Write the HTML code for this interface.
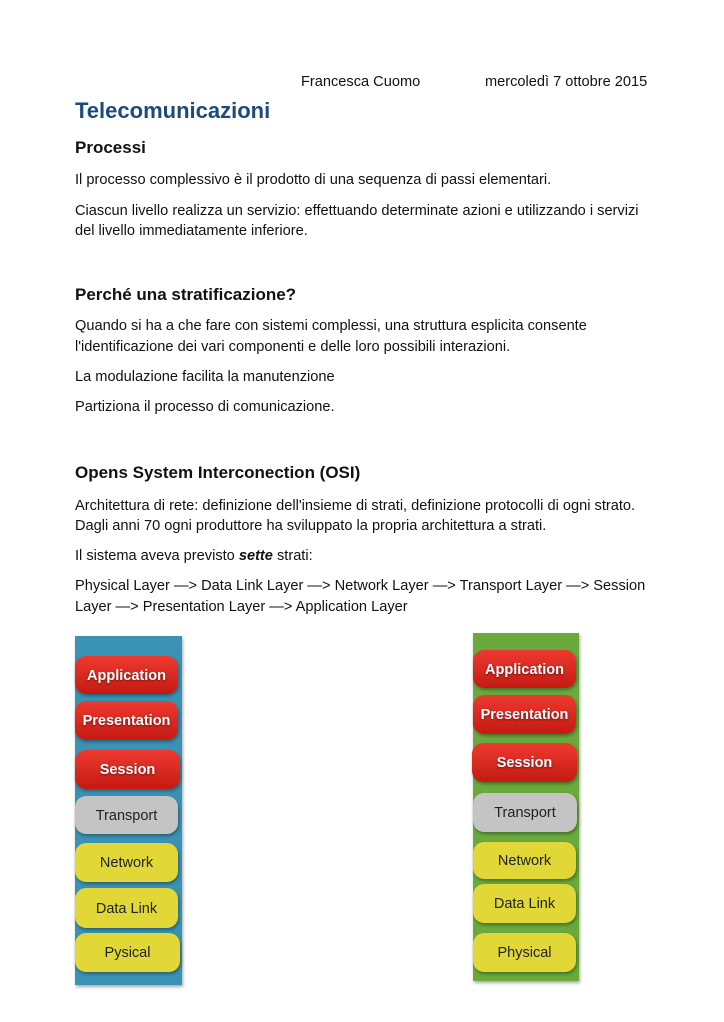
<!DOCTYPE html>
<html><head><meta charset="utf-8"><style>
body{margin:0;width:724px;height:1022px;background:#fff;position:relative;font-family:"Liberation Sans",Arial,sans-serif;color:#111;overflow:hidden}
.t{position:absolute;font-size:14.6px;white-space:nowrap;line-height:17px}
.h{position:absolute;font-size:17px;font-weight:bold;white-space:nowrap}
.panel{position:absolute;box-shadow:1px 2px 3px rgba(0,0,0,.35)}
.b{position:absolute;border-radius:11px;text-align:center;font-size:14.5px;box-sizing:border-box;box-shadow:1px 2px 3px rgba(0,0,0,.35)}
.r{background:linear-gradient(#ee3a30,#c41a12);color:#fff;font-weight:bold;text-shadow:0 1px 2px rgba(0,0,0,.5)}
.g{background:#c4c4c4;color:#222}
.y{background:#e1d737;color:#222}
</style></head><body>
<div class="t" style="left:301px;top:74px">Francesca Cuomo</div>
<div class="t" style="left:485px;top:74px">mercoledì 7 ottobre 2015</div>
<div style="position:absolute;left:75px;top:98px;font-size:22px;font-weight:bold;color:#1c4a7c">Telecomunicazioni</div>
<div class="h" style="left:75px;top:138px">Processi</div>
<div class="t" style="left:75px;top:172px">Il processo complessivo è il prodotto di una sequenza di passi elementari.</div>
<div class="t" style="left:75px;top:203px">Ciascun livello realizza un servizio: effettuando determinate azioni e utilizzando i servizi</div>
<div class="t" style="left:75px;top:223px">del livello immediatamente inferiore.</div>
<div class="h" style="left:75px;top:285px">Perché una stratificazione?</div>
<div class="t" style="left:75px;top:318px">Quando si ha a che fare con sistemi complessi, una struttura esplicita consente</div>
<div class="t" style="left:75px;top:339px">l'identificazione dei vari componenti e delle loro possibili interazioni.</div>
<div class="t" style="left:75px;top:369px">La modulazione facilita la manutenzione</div>
<div class="t" style="left:75px;top:399px">Partiziona il processo di comunicazione.</div>
<div class="h" style="left:75px;top:463px">Opens System Interconection (OSI)</div>
<div class="t" style="left:75px;top:498px">Architettura di rete: definizione dell'insieme di strati, definizione protocolli di ogni strato.</div>
<div class="t" style="left:75px;top:518px">Dagli anni 70 ogni produttore ha sviluppato la propria architettura a strati.</div>
<div class="t" style="left:75px;top:548px">Il sistema aveva previsto <b><i>sette</i></b> strati:</div>
<div class="t" style="left:75px;top:578px">Physical Layer —&gt; Data Link Layer —&gt; Network Layer —&gt; Transport Layer —&gt; Session</div>
<div class="t" style="left:75px;top:599px">Layer —&gt; Presentation Layer —&gt; Application Layer</div>

<div class="panel" style="left:75px;top:636px;width:107px;height:349px;background:#3a93b5"></div>
<div class="b r" style="left:75px;top:656px;width:103px;height:38px;line-height:40px">Application</div>
<div class="b r" style="left:75px;top:701px;width:103px;height:39px;line-height:41px">Presentation</div>
<div class="b r" style="left:75px;top:750px;width:105px;height:39px;line-height:41px">Session</div>
<div class="b g" style="left:75px;top:796px;width:103px;height:38px;line-height:40px">Transport</div>
<div class="b y" style="left:75px;top:843px;width:103px;height:39px;line-height:41px">Network</div>
<div class="b y" style="left:75px;top:888px;width:103px;height:40px;line-height:42px">Data Link</div>
<div class="b y" style="left:75px;top:933px;width:105px;height:39px;line-height:41px">Pysical</div>

<div class="panel" style="left:473px;top:633px;width:106px;height:348px;background:#6aaa3c"></div>
<div class="b r" style="left:473px;top:650px;width:103px;height:38px;line-height:40px">Application</div>
<div class="b r" style="left:473px;top:695px;width:103px;height:39px;line-height:41px">Presentation</div>
<div class="b r" style="left:472px;top:743px;width:105px;height:39px;line-height:41px">Session</div>
<div class="b g" style="left:473px;top:793px;width:104px;height:39px;line-height:41px">Transport</div>
<div class="b y" style="left:473px;top:842px;width:103px;height:37px;line-height:39px">Network</div>
<div class="b y" style="left:473px;top:884px;width:103px;height:39px;line-height:41px">Data Link</div>
<div class="b y" style="left:473px;top:933px;width:103px;height:39px;line-height:41px">Physical</div>
</body></html>
